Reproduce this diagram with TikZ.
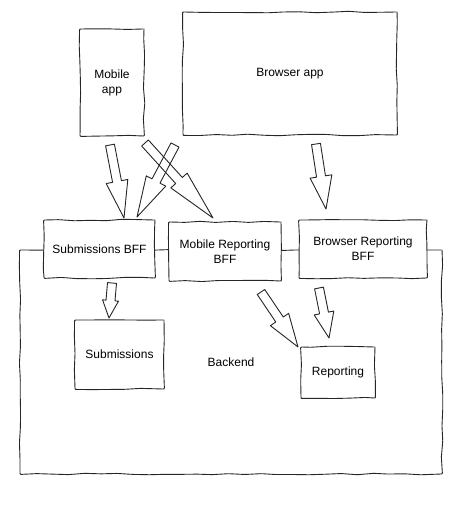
\documentclass[tikz,border=0pt]{standalone}
\usepackage{fontspec}
\setmainfont{Liberation Sans}
\usetikzlibrary{calc,decorations.pathmorphing}

% hollow block arrow from #2 to #3, #1 = half width of the head
\newcommand\fatarrow[3][11pt]{%
  \coordinate (h) at ($(#3)!0.5!(#2)$);
  \draw[fat] ($(#2)!4.5pt!90:(#3)$) -- ($(h)!4.5pt!90:(#3)$)
    -- ($(h)!#1!90:(#3)$) -- (#3) -- ($(h)!#1!-90:(#3)$)
    -- ($(h)!4.5pt!-90:(#3)$) -- ($(#2)!4.5pt!-90:(#3)$) -- cycle;}

\begin{document}
\begin{tikzpicture}[x=1pt,y=-1pt,
    box/.style={draw=black!85,line width=.9pt,fill=white,align=center,inner sep=1pt,
      font=\fontsize{12}{15}\selectfont,rounded corners=.8pt,decorate,
      decoration={random steps,segment length=16pt,amplitude=.8pt}},
    fat/.style={draw=black!85,line width=.9pt,line join=round}]
  \pgfmathsetseed{11}
  \useasboundingbox (0,0) rectangle (459,510);
  %%%%%%%%%%%%%%%%% backend behind everything %%%%%%%%%%%%%%%%%
  \node[box,minimum width=422pt,minimum height=224pt] (backend) at (231,362) {Backend};
  %%%%%%%%%%%%%%%%% apps %%%%%%%%%%%%%%%%%
  \node[box,minimum width=64pt,minimum height=107pt] (mobile) at (112,82.5) {Mobile\\app};
  \node[box,minimum width=214pt,minimum height=123pt] (browser) at (290,73.5) {Browser app};
  %%%%%%%%%%%%%%%%% BFFs sit on the backend edge %%%%%%%%%%%%%%%%%
  \node[box,minimum width=111pt,minimum height=58pt] (subbff) at (99.5,249) {Submissions BFF};
  \node[box,minimum width=112pt,minimum height=59pt] (mobrepbff) at (225,251.5) {Mobile Reporting\\BFF};
  \node[box,minimum width=128pt,minimum height=58pt] (brorepbff) at (363,249) {Browser Reporting\\BFF};
  %%%%%%%%%%%%%%%%% services %%%%%%%%%%%%%%%%%
  \node[box,minimum width=89pt,minimum height=69pt] (subm) at (119.5,354.5) {Submissions};
  \node[box,minimum width=74pt,minimum height=51pt] (rep) at (338,372.5) {Reporting};
  %%%%%%%%%%%%%%%%% arrows: tail x/y, tip x/y, head %%%%%%%%%%%%%%%%%
  \foreach \a/\b/\c/\d/\w [count=\n] in
    {110/145/124/218/11pt, 175/145/137/217/11pt, 145/143/213/218/11pt,
     316/144/326/209/11pt, 112/283/109/318/8pt, 261/292/298/347/11pt,
     319/288/329/338/10pt}
    {\coordinate (s\n) at (\a,\b); \coordinate (e\n) at (\c,\d);
     \fatarrow[\w]{s\n}{e\n}}
\end{tikzpicture}
\end{document}
